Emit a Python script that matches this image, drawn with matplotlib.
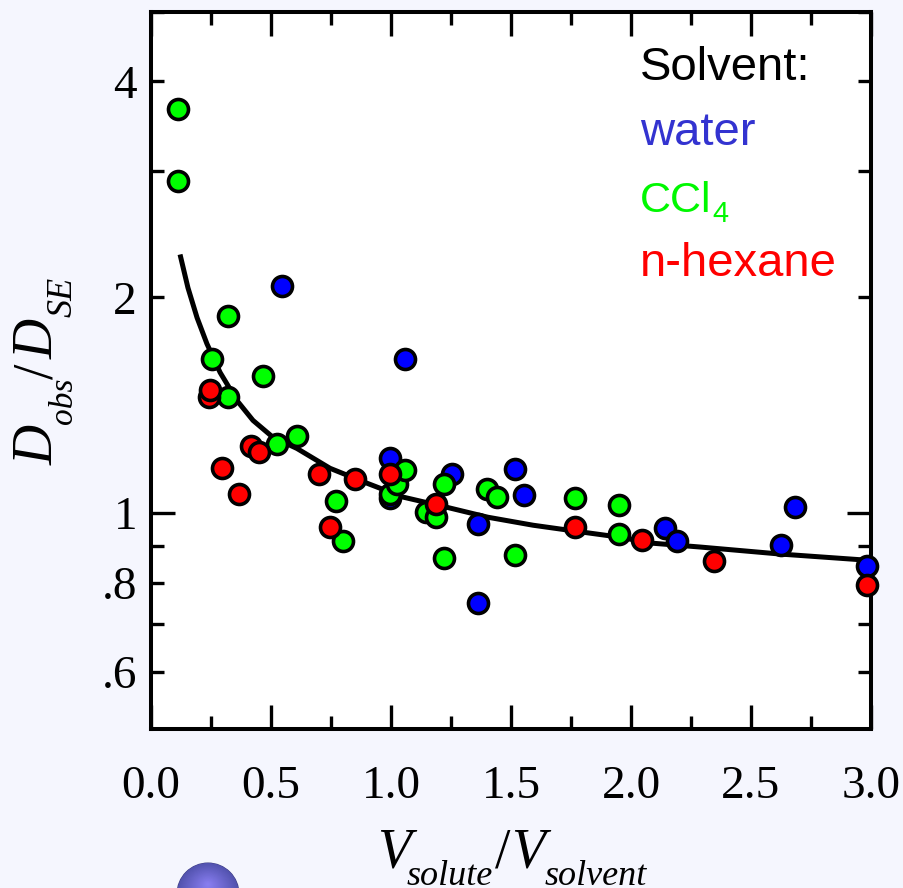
#!/usr/bin/env python3
import numpy as np
import matplotlib
matplotlib.use("Agg")
import matplotlib.pyplot as plt
from matplotlib.patches import Circle

plt.rcParams['font.family'] = 'Liberation Serif'

# data
water_x = [0.546, 1.058, 0.996, 0.996, 1.254, 1.363, 1.363, 1.517, 1.555, 2.141, 2.192, 2.625, 2.684, 2.983]
water_y = [2.075, 1.643, 1.193, 1.049, 1.133, 0.965, 0.750, 1.151, 1.059, 0.953, 0.914, 0.903, 1.019, 0.844]

ccl4_x = [0.112, 0.112, 0.321, 0.255, 0.321, 0.466, 0.525, 0.609, 0.771, 0.800, 0.996, 1.025,
          1.058, 1.146, 1.188, 1.220, 1.220, 1.400, 1.441, 1.517, 1.766, 1.950, 1.950]
ccl4_y = [3.66, 2.91, 1.885, 1.643, 1.454, 1.551, 1.247, 1.280, 1.039, 0.914, 1.063, 1.097,
          1.148, 1.003, 0.987, 1.097, 0.866, 1.080, 1.052, 0.874, 1.049, 1.026, 0.935]

hexane_x = [0.242, 0.246, 0.295, 0.367, 0.417, 0.450, 0.700, 0.850, 0.746, 0.996, 1.188, 1.766, 2.046, 2.346, 2.983]
hexane_y = [1.454, 1.487, 1.155, 1.063, 1.239, 1.216, 1.133, 1.115, 0.956, 1.133, 1.029, 0.956, 0.917, 0.857, 0.794]

curve_x = [0.121, 0.154, 0.192, 0.233, 0.288, 0.358, 0.425, 0.508, 0.608, 0.746, 0.900, 1.050, 1.233, 1.404,
           1.592, 1.767, 1.950, 2.090, 2.287, 2.621, 2.979]
curve_y = [2.295, 2.062, 1.873, 1.723, 1.571, 1.436, 1.347, 1.276, 1.231, 1.155, 1.101, 1.053, 1.019, 0.987,
           0.962, 0.944, 0.926, 0.908, 0.897, 0.877, 0.860]

xticks = [0.0, 0.5, 1.0, 1.5, 2.0, 2.5, 3.0]
xticks_minor = [0.25, 0.75, 1.25, 1.75, 2.25, 2.75]
yticks_minor = [5, 4, 3, 2, 0.9, 0.8, 0.7, 0.6]
yticklabels_minor = ['', '4', '', '2', '', '.8', '', '.6']

W, H = 904, 888
bg = '#F5F6FE'

fig = plt.figure(figsize=(W / 100, H / 100), dpi=100, facecolor=bg)
ax = fig.add_axes([151 / W, 1 - 729 / H, (871 - 151) / W, (729 - 12) / H])
ax.set_yscale('log')
ax.set_xlim(0, 3.0)
ax.set_ylim(0.5, 5)

ax.plot(curve_x, curve_y, color='k', lw=3.6, zorder=2, solid_joinstyle='round', solid_capstyle='butt')
for xs, ys, c in [(water_x, water_y, '#0000FF'), (ccl4_x, ccl4_y, '#00FF00'), (hexane_x, hexane_y, '#FF0000')]:
    ax.plot(xs, ys, 'o', ms=14.4, mfc=c, mec='k', mew=2.6, zorder=5, clip_on=False)

ax.set_xticks(xticks)
ax.set_xticks(xticks_minor, minor=True)
ax.set_xticklabels(['%.1f' % t for t in xticks])
ax.set_yticks([1])
ax.set_yticklabels(['1'])
ax.set_yticks(yticks_minor, minor=True)
ax.set_yticklabels(yticklabels_minor, minor=True)

ax.tick_params(which='both', direction='in', top=True, right=True, width=2.4, labelsize=34)
ax.tick_params(which='major', length=17)
ax.tick_params(which='minor', length=9.4)
ax.tick_params(axis='x', which='major', pad=26)
ax.tick_params(axis='y', which='both', pad=10)
for s in ax.spines.values():
    s.set_linewidth(2.9)


def lab(x, y, s, size, style='italic', rot=0):
    fig.text(x / W, 1 - y / H, s, fontsize=size, style=style, rotation=rot,
             rotation_mode='anchor', ha='left', va='baseline')


# x label, built from pieces so the subscripts sit as low as in the original
lab(377, 867, 'V', 40)
lab(407, 885, 'solute', 26)
lab(495, 867, '/', 40, style='normal')
lab(511, 867, 'V', 40)
lab(545, 885, 'solvent', 26)

# y label, same idea
lab(53, 465, 'D', 40, rot=90)
lab(72, 424, 'obs', 24, rot=90)
lab(53, 379, '/', 40, style='normal', rot=90)
lab(53, 359, 'D', 40, rot=90)
lab(72, 317, 'SE', 26, rot=90)

# legend as text
sans = 'Liberation Sans'
fig.text(640 / W, 1 - 80 / H, 'Solvent:', color='k', fontsize=34, family=sans)
fig.text(640 / W, 1 - 145 / H, 'water', color='#3333D0', fontsize=34, family=sans)
fig.text(640 / W, 1 - 212 / H, 'CCl', color='#00F800', fontsize=31, family=sans)
fig.text(712 / W, 1 - 222 / H, '4', color='#00F800', fontsize=21, family=sans)
fig.text(640 / W, 1 - 276 / H, 'n-hexane', color='#FF0000', fontsize=34, family=sans)

# shaded ball cut off by the bottom edge
over = fig.add_axes([0, 0, 1, 1], facecolor='none')
over.set_xlim(0, W)
over.set_ylim(H, 0)
over.axis('off')
over.add_patch(Circle((208, 894), 31.5, fc='#3C3C80', ec='none'))
for f in np.linspace(0.98, 0.02, 30):
    col = (0.32 + 0.22 * (1 - f), 0.32 + 0.18 * (1 - f), 0.68 + 0.27 * (1 - f))
    over.add_patch(Circle((208, 894 - 10 * (1 - f)), 31.5 * f, fc=col, ec='none'))

fig.savefig('out.png', dpi=100, facecolor=bg)
